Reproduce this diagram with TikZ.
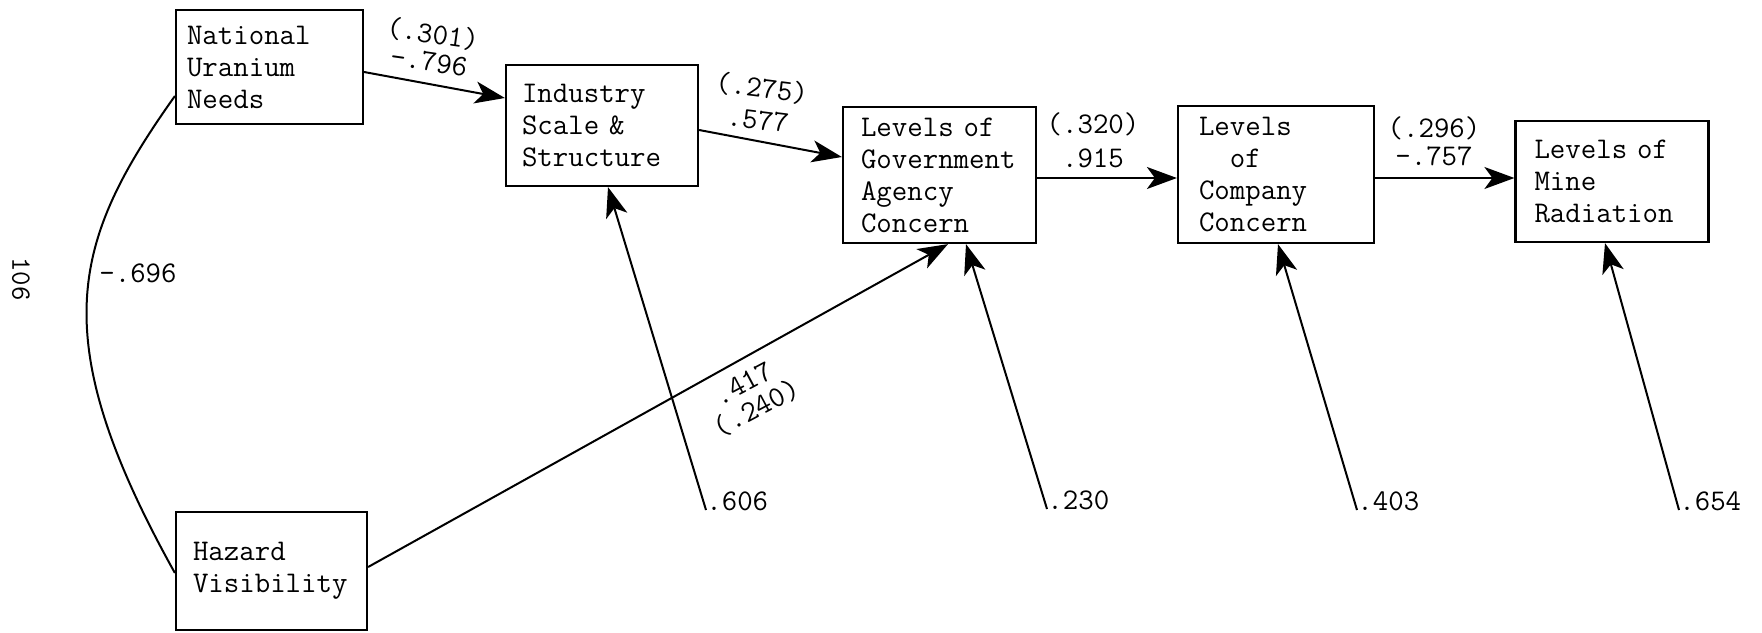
\documentclass[tikz,border=0pt]{standalone}
\usetikzlibrary{arrows.meta,calc}
\begin{document}
\begin{tikzpicture}[x=0.5pt,y=-0.5pt,
  font=\fontsize{15}{16}\selectfont\ttfamily,
  var/.style={draw,line width=1.1pt,inner xsep=0pt,inner ysep=0pt,align=left},
  arrowline/.style={line width=1pt,-{Stealth[length=15pt,width=11pt,inset=4pt]}},
  plainline/.style={line width=1pt},
  coef/.style={inner sep=0pt},
  coefpair/.style={inner sep=0pt,align=center}]
\useasboundingbox (0,0) rectangle (1762,632);

% variables of the path model
\node[var,minimum width=93.5pt,minimum height=57pt,text width=82.5pt] (nat) at (269.5,67) {National\\Uranium\\Needs};
\node[var,minimum width=96pt,minimum height=60.5pt,text width=80pt] (ind) at (602,125.5) {Industry\\Scale \&\\Structure};
\node[var,minimum width=96.5pt,minimum height=68pt,text width=78.5pt] (gov) at (939.5,175) {Levels~of\\Government\\Agency\\Concern};
\node[var,minimum width=98pt,minimum height=68.5pt,text width=77pt] (com) at (1276,174.5) {Levels\\\phantom{Le}of\\Company\\Concern};
\node[var,minimum width=96.5pt,minimum height=60.5pt,text width=77.5pt] (mine) at (1612,181.5) {Levels~of\\Mine\\Radiation};
\node[var,minimum width=95.5pt,minimum height=59pt,text width=78.5pt] (haz) at (271.5,571) {Hazard\\Visibility};

% causal paths
\draw[arrowline] ($(nat.east)+(0,5)$) -- ($(ind.west)+(0,-27.5)$);
\draw[arrowline] ($(ind.east)+(0,4.5)$) -- ($(gov.west)+(0,-18)$);
\draw[arrowline] ($(gov.east)+(0,3)$) -- ($(com.west)+(0,3.5)$);
\draw[arrowline] ($(com.east)+(0,3.5)$) -- ($(mine.west)+(0,-3.5)$);
\draw[arrowline] ($(haz.east)+(0,-4)$) -- ($(gov.south)+(8.5,0)$);

% correlation between the exogenous variables
\draw[plainline] ($(nat.west)+(0,29)$) .. controls (72,241) and (43,336) .. ($(haz.west)+(0,2)$);
\node[coef] (r) at (138,273) {-.696};

% path coefficients (standard error above, coefficient below)
\node[coefpair,rotate=-8,font=\fontsize{15}{14}\selectfont\ttfamily] (c1) at (431,47) {(.301)\\-.796};
\node[coefpair,rotate=-7] (c2) at (760,103) {(.275)\\.577};
\node[coefpair,font=\fontsize{15}{17}\selectfont\ttfamily] (c3) at (1093,140) {(.320)\\.915};
\node[coefpair,font=\fontsize{15}{14}\selectfont\ttfamily] (c4) at (1434,141) {(.296)\\-.757};
\node[coef,rotate=28,align=left,font=\fontsize{15}{14}\selectfont\ttfamily] (c5) at (750,396) {\phantom{(}.417\\(.240)};

% residual paths
\coordinate (t1) at (706,510);
\coordinate (t2) at (1047,509);
\coordinate (t3) at (1357,510);
\coordinate (t4) at (1679,510);
\node[coef,anchor=base west] (e1) at (t1) {.606};
\node[coef,anchor=base west] (e2) at (t2) {.230};
\node[coef,anchor=base west] (e3) at (t3) {.403};
\node[coef,anchor=base west] (e4) at (t4) {.654};
\draw[arrowline] (t1) -- ($(ind.south)+(6,0)$);
\draw[arrowline] (t2) -- ($(gov.south)+(26.5,0)$);
\draw[arrowline] (t3) -- ($(com.south)+(2,0)$);
\draw[arrowline] (t4) -- ($(mine.south)+(-7,0)$);

% page number
\node[coef,rotate=-90,font=\fontsize{14}{14}\selectfont\ttfamily] (pg) at (21,279) {106};
\end{tikzpicture}
\end{document}
